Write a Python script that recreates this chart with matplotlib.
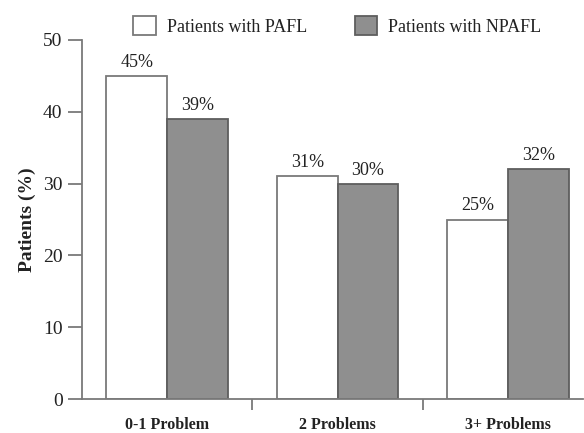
import numpy as np
import matplotlib.pyplot as plt
from matplotlib.patches import Patch

# data
categories = ["0-1 Problem", "2 Problems", "3+ Problems"]
pafl = [45, 31, 25]
npafl = [39, 30, 32]
series_names = ["Patients with PAFL", "Patients with NPAFL"]

plt.rcParams['font.family'] = ['Liberation Serif', 'DejaVu Serif']

EDGE = '#7a7a7a'
GREY = '#8f8f8f'

fig = plt.figure(figsize=(5.84, 4.33), dpi=100)
ax = fig.add_axes([82 / 584, 34 / 433, 501 / 584, 359 / 433])

x = np.arange(len(categories))
w = 0.357
b1 = ax.bar(x - w / 2, pafl, w, color='white', edgecolor=EDGE, linewidth=1.3)
b2 = ax.bar(x + w / 2, npafl, w, color=GREY, edgecolor='#5e5e5e', linewidth=1.3)

for bars, vals in [(b1, pafl), (b2, npafl)]:
    for bar, v in zip(bars, vals):
        ax.text(bar.get_x() + bar.get_width() / 2, v + 0.7, f"{v}%",
                ha='center', va='bottom', fontsize=13, color='#222222')

ax.set_xlim(-0.5, 2.44)
ax.set_ylim(0, 50)
ax.set_yticks([0, 10, 20, 30, 40, 50])
ax.tick_params(axis='y', length=10, width=1.3, color=EDGE, labelsize=14,
               labelcolor='#222222', pad=4)

# category boundaries as ticks, labels in the middle
ax.set_xticks([0.5, 1.5])
ax.set_xticklabels([])
ax.tick_params(axis='x', length=8, width=1.3, color=EDGE)
for xi, lab in zip(x, categories):
    ax.text(xi, -4.2, lab, ha='center', va='baseline', fontsize=11.5,
            fontweight='bold', color='#222222')

for side in ['top', 'right']:
    ax.spines[side].set_visible(False)
for side in ['left', 'bottom']:
    ax.spines[side].set_color(EDGE)
    ax.spines[side].set_linewidth(1.3)

ax.set_ylabel("Patients (%)", fontsize=14, fontweight='bold', color='#222222',
              labelpad=5)

handles = [Patch(facecolor='white', edgecolor=EDGE, linewidth=1.3),
           Patch(facecolor=GREY, edgecolor='#5e5e5e', linewidth=1.3)]
fig.legend(handles, series_names, loc='center left',
           bbox_to_anchor=(117 / 584, 1 - 26 / 433), ncol=2, frameon=False,
           fontsize=13, handlelength=1.25, handleheight=1.25,
           handletextpad=0.6, columnspacing=2.65, labelcolor='#222222')

fig.savefig('out.png', dpi=100)
